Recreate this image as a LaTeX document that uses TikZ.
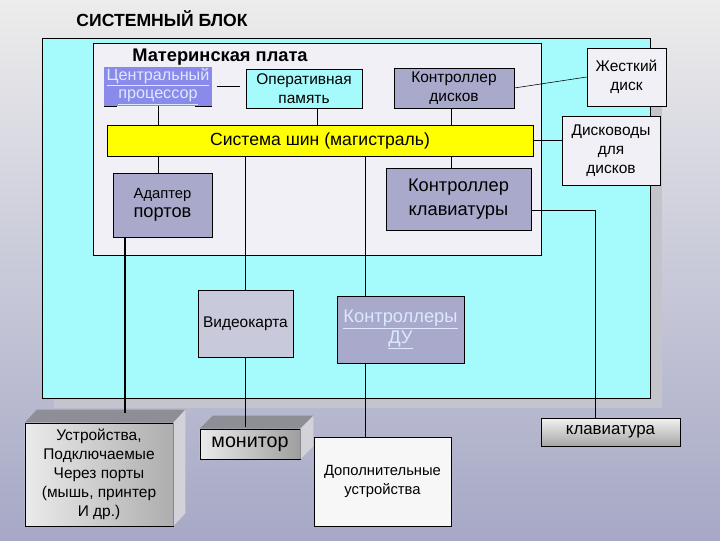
\documentclass[tikz,border=0pt]{standalone}
\usepackage{fontspec}
\setmainfont{Liberation Sans}
\usetikzlibrary{positioning, calc, shadows}
\definecolor{BgTop}{HTML}{ECECEC}
\definecolor{BgBottom}{HTML}{A6A8C6}
\definecolor{CyanFill}{HTML}{A5FBFB}
\definecolor{BoardFill}{HTML}{F0F0F6}
\definecolor{SlateFill}{HTML}{A9A9CB}
\definecolor{VideoFill}{HTML}{C9C9DC}
\definecolor{CpuFill}{HTML}{8A8AEA}
\definecolor{LinkText}{HTML}{DCEAFF}
\definecolor{ShadowGray}{HTML}{C4C4CC}
\definecolor{TopGray}{HTML}{8E8E96}
\definecolor{SideGray}{HTML}{D2D2D8}
\definecolor{BusYellow}{HTML}{FFFF00}
\tikzset{
  box/.style={draw=black, thin, align=center, inner sep=2pt, font=\fontsize{11}{13.5}\selectfont},
  cyanbox/.style={box, fill=CyanFill},
  slatebox/.style={box, fill=SlateFill},
  whitebox/.style={box, fill=BoardFill},
  frontbox/.style={draw=black, thin, align=center, inner sep=2pt, left color=white!92!black, right color=#1},
  link/.style={draw=black, thin},
  thicklink/.style={draw=black, line width=1.3pt}
}
\begin{document}
\begin{tikzpicture}[x=0.025cm, y=-0.025cm]
\useasboundingbox (0,0) rectangle (720,540);
\fill[top color=BgTop, bottom color=BgBottom] (0,0) rectangle (720,540);

\node[font=\bfseries\fontsize{12.5}{15}\selectfont] (title) at (162,19) {СИСТЕМНЫЙ БЛОК};

\node[draw=black, thin, fill=CyanFill, minimum width=15.2cm, minimum height=9cm,
  drop shadow={shadow xshift=0.3cm, shadow yshift=-0.25cm, fill=ShadowGray, opacity=1}] (sysblock) at (346,218) {};
\node[draw=black, thin, fill=BoardFill, minimum width=11.2cm, minimum height=5.3cm] (board) at (317,149) {};
\node[font=\bfseries\fontsize{13}{15}\selectfont] (boardtitle) at (220,57) {Материнская плата};

\node[fill=CpuFill, minimum width=2.7cm, minimum height=0.875cm, inner sep=1pt, align=center,
  text=LinkText, font=\fontsize{11.5}{13}\selectfont] (cpu) at (158,86.5) {\underline{Центральный}\\\underline{процессор}};
\draw[link] (cpu.south west) -- ++(13,0);
\draw[link] (cpu.south east) -- ++(-17,0);
\node[cyanbox, minimum width=2.9cm, minimum height=0.975cm] (ram) at (304,88.5) {Оперативная\\память};
\node[slatebox, minimum width=3cm, minimum height=1cm] (diskctl) at (454,88) {Контроллер\\дисков};
\node[whitebox, minimum width=1.975cm, minimum height=1.45cm] (hdd) at (626.5,77) {Жесткий\\диск};

\node[box, fill=BusYellow, minimum width=10.65cm, minimum height=0.775cm, font=\fontsize{12.5}{14}\selectfont] (bus) at (320,140.5) {Система шин (магистраль)};
\node[whitebox, minimum width=2.45cm, minimum height=1.725cm] (drives) at (611,150.5) {Дисководы\\для\\дисков};

\node[slatebox, minimum width=2.475cm, minimum height=1.6cm] (adapter) at (162.5,205) {{\fontsize{10.5}{14}\selectfont Адаптер}\\{\fontsize{13}{16}\selectfont портов}};
\node[slatebox, minimum width=3.625cm, minimum height=1.55cm, font=\fontsize{13}{17}\selectfont] (kbdctl) at (458.5,199) {Контроллер\\клавиатуры};

\node[box, fill=VideoFill, minimum width=2.375cm, minimum height=1.675cm] (video) at (245.5,323.5) {Видеокарта};
\node[slatebox, minimum width=3.175cm, minimum height=1.675cm, text=LinkText, font=\fontsize{13}{15}\selectfont] (remote) at (400.5,329.5) {\underline{Контроллеры}\\\underline{ДУ}};

\node[frontbox=white!68!black, minimum width=3.7cm, minimum height=2.575cm, font=\fontsize{11}{13.5}\selectfont] (portdev) at (99,474.5) {Устройства,\\Подключаемые\\Через порты\\(мышь, принтер\\И др.)};
\fill[TopGray] (portdev.north west) -- ++(12,-13) -- ([shift={(12,-13)}]portdev.north east) -- (portdev.north east) -- cycle;
\fill[SideGray] (portdev.north east) -- ++(12,-13) -- ([shift={(12,-13)}]portdev.south east) -- (portdev.south east) -- cycle;

\node[frontbox=white!62!black, minimum width=2.5cm, minimum height=0.75cm, font=\fontsize{14}{16}\selectfont] (monitor) at (250,444) {монитор};
\fill[TopGray] (monitor.north west) -- ++(13,-13) -- ([shift={(13,-13)}]monitor.north east) -- (monitor.north east) -- cycle;
\fill[SideGray] (monitor.north east) -- ++(13,-13) -- ([shift={(13,-13)}]monitor.south east) -- (monitor.south east) -- cycle;

\node[box, fill=white!97!black, minimum width=3.425cm, minimum height=2.225cm, font=\fontsize{10.5}{13.5}\selectfont] (extra) at (382.5,481.5) {Дополнительные\\устройства};
\node[box, top color=white!95!black, bottom color=white!65!black, minimum width=3.475cm, minimum height=0.7cm, font=\fontsize{12}{14}\selectfont] (keyboard) at (610.5,432) {клавиатура};

\draw[link, shorten <=3pt, shorten >=4pt] (cpu.east) -- (cpu.east -| ram.west);
\draw[link] (cpu.south) -- (cpu.south |- bus.north);
\draw[link] ([xshift=3.25mm]ram.south) -- ([xshift=3.25mm]ram.south |- bus.north);
\draw[link] ([xshift=-0.75mm]diskctl.south) -- ([xshift=-0.75mm]diskctl.south |- bus.north);
\draw[link] (diskctl.east) -- (hdd.west);
\draw[link] (bus.east) -- (bus.east -| drives.west);
\draw[link] (bus.south -| cpu.south) -- (adapter.north -| cpu.south);
\draw[link] (bus.south -| video.north) -- (video.north);
\draw[link] ([xshift=-8.9mm]remote.north |- bus.south) -- ([xshift=-8.9mm]remote.north);
\draw[link] ([xshift=-0.75mm]diskctl.south |- bus.south) -- ([xshift=-0.75mm]diskctl.south |- kbdctl.north);
\draw[link] ([yshift=-2.75mm]kbdctl.east) -| ([xshift=-3.9mm]keyboard.north);
\draw[thicklink] ([xshift=-9.4mm]adapter.south) -- ([xshift=-9.4mm,yshift=2.5mm]adapter.south |- portdev.north);
\draw[link] (video.south) -- ([yshift=0.5mm]video.south |- monitor.north);
\draw[link] ([xshift=-8.9mm]remote.south) -- ([xshift=-8.9mm]remote.south |- extra.north);
\end{tikzpicture}
\end{document}
